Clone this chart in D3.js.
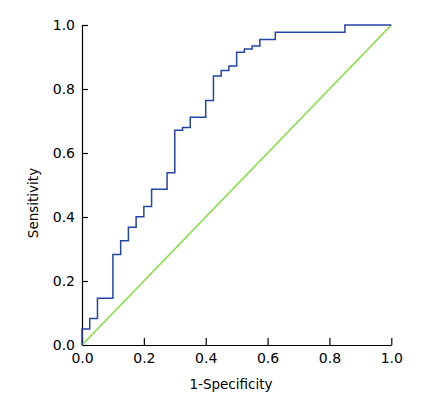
<!DOCTYPE html>
<html>
<head>
<meta charset="utf-8">
<script src="https://cdn.jsdelivr.net/npm/d3@7"></script>
<style>
html,body{margin:0;padding:0;background:#fff;}
svg{display:block;}
text{font-family:"DejaVu Sans",Verdana,sans-serif;fill:#000;}
</style>
</head>
<body>
<svg id="chart" width="441" height="406"></svg>
<script>
// ROC curve vertices (1-specificity, sensitivity), drawn as steps
const fpr = [0, 0, 0.025, 0.05, 0.1, 0.125, 0.15, 0.175, 0.2, 0.225, 0.275, 0.3, 0.325, 0.35, 0.4, 0.425, 0.45, 0.475, 0.5, 0.525, 0.55, 0.575, 0.625, 0.85, 1.0];
const tpr = [0, 0.05, 0.083, 0.146, 0.283, 0.326, 0.368, 0.401, 0.433, 0.487, 0.538, 0.671, 0.680, 0.712, 0.764, 0.841, 0.858, 0.872, 0.915, 0.925, 0.934, 0.955, 0.977, 1.0, 1.0];
const refX = [0, 1];
const refY = [0, 1];
const tickValues = [0, 0.2, 0.4, 0.6, 0.8, 1.0];
const xTitle = "1-Specificity";
const yTitle = "Sensitivity";

const svg = d3.select("#chart");
const x = d3.scaleLinear().domain([0, 1]).range([82, 391.3]);
const y = d3.scaleLinear().domain([0, 1]).range([345, 25]);

// axes (ticks inward)
const xAxis = d3.axisBottom(x).tickValues(tickValues).tickFormat(d3.format(".1f")).tickSizeInner(-7).tickSizeOuter(0).tickPadding(10);
const yAxis = d3.axisLeft(y).tickValues(tickValues).tickFormat(d3.format(".1f")).tickSizeInner(-6).tickSizeOuter(0).tickPadding(7);

const gx = svg.append("g").attr("transform", "translate(0,345)").call(xAxis);
const gy = svg.append("g").attr("transform", "translate(82,0)").call(yAxis);
[gx, gy].forEach(g => {
  g.select(".domain").attr("stroke", "#000").attr("stroke-width", 1.2);
  g.selectAll(".tick line").attr("stroke", "#000").attr("stroke-width", 1.2);
  g.selectAll(".tick text").attr("font-size", 14).attr("font-family", "DejaVu Sans").attr("fill", "#000");
});
gx.selectAll(".tick text").attr("dy", "0.71em").attr("y", 8);
gy.selectAll(".tick text").attr("x", -7);

// reference diagonal
const refData = refX.map((v, i) => [v, refY[i]]);
svg.append("path")
  .datum(refData)
  .attr("fill", "none")
  .attr("stroke", "#7ee23a")
  .attr("stroke-width", 1.5)
  .attr("d", d3.line().x(d => x(d[0])).y(d => y(d[1])));

// ROC curve
const rocData = fpr.map((v, i) => [v, tpr[i]]);
svg.append("path")
  .datum(rocData)
  .attr("fill", "none")
  .attr("stroke", "#2444a8")
  .attr("stroke-width", 1.5)
  .attr("d", d3.line().x(d => x(d[0])).y(d => y(d[1])).curve(d3.curveStepAfter));

// titles
svg.append("text")
  .attr("x", 231).attr("y", 389)
  .attr("text-anchor", "middle")
  .attr("font-size", 13.5)
  .text(xTitle);
svg.append("text")
  .attr("transform", "translate(38,203) rotate(-90)")
  .attr("text-anchor", "middle")
  .attr("font-size", 13.5)
  .text(yTitle);
</script>
</body>
</html>
